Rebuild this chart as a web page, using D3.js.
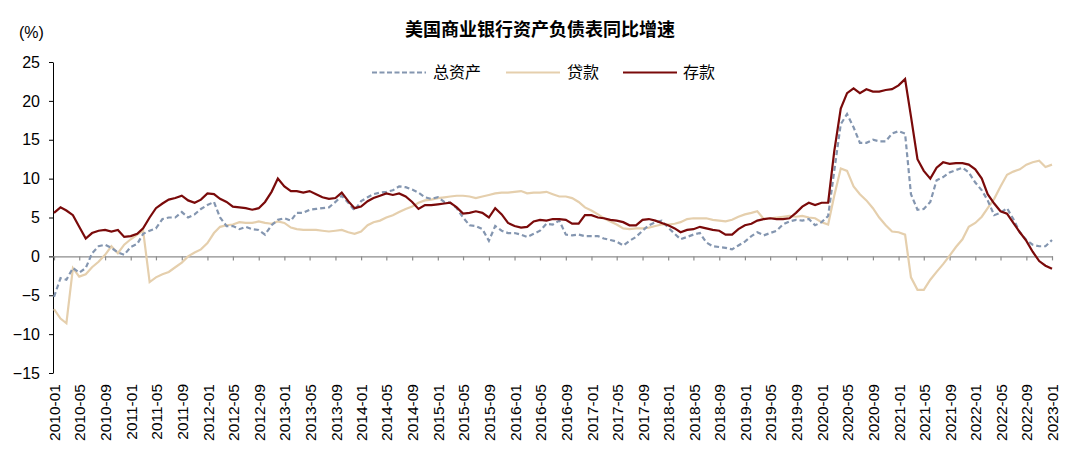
<!DOCTYPE html>
<html><head><meta charset="utf-8">
<script src="https://cdn.jsdelivr.net/npm/d3@7"></script>
<style>
body{margin:0;background:#fff;}
text{font-family:"Liberation Sans",Arial,"Noto Sans CJK SC",sans-serif;}
.cjk{font-family:"Liberation Sans","Noto Sans CJK SC",sans-serif;}
</style></head>
<body><svg id="c" width="1080" height="469"></svg>
<script>
// Monthly observations, 2010-01 .. 2023-01
const startMonth = "2010-01";
const monthCount = 157;
const seriesNames = ["总资产", "贷款", "存款"];
const totalAssets = [
-5.2,-2.8,-3.0,-1.5,-2.1,-1.5,0.4,1.3,1.5,1.1,0.5,0.2,
1.2,1.6,2.9,3.3,3.6,4.8,5.0,5.0,5.7,5.0,5.4,6.1,
6.6,7.0,5.0,3.9,3.9,3.5,3.8,3.5,3.4,2.8,4.0,4.7,
4.9,4.6,5.6,5.6,6.0,6.1,6.2,6.3,7.0,7.8,6.9,5.9,
7.1,7.6,8.0,8.2,8.3,8.5,9.0,8.9,8.6,8.2,7.6,7.4,
7.6,7.0,6.9,6.2,5.0,4.0,3.9,3.5,2.0,3.9,3.3,3.0,
3.0,2.8,2.5,2.9,3.3,4.2,4.1,4.6,2.8,2.7,2.8,2.6,
2.6,2.6,2.3,2.1,1.9,1.4,2.0,2.5,3.3,4.0,4.4,4.6,
3.7,2.9,2.2,2.5,2.8,3.0,1.8,1.3,1.2,1.1,0.9,1.4,
1.9,2.6,3.1,2.7,3.0,3.3,4.1,4.5,4.7,4.6,4.8,4.0,
4.4,5.2,11.0,17.0,18.3,16.6,14.6,14.6,15.0,14.8,14.8,15.8,
16.1,15.8,8.0,6.0,6.1,7.0,9.8,10.2,10.8,11.1,11.4,10.8,
9.5,8.5,7.2,5.3,5.6,6.2,4.8,3.1,2.1,1.5,1.3,1.3,
2.1];
const loans = [
-6.8,-8.0,-8.6,-1.5,-2.6,-2.3,-1.4,-0.7,0.2,1.3,0.4,1.5,
2.2,2.8,3.3,-3.3,-2.7,-2.3,-2.0,-1.4,-0.8,0.0,0.5,0.9,
1.7,3.0,3.8,4.0,4.1,4.4,4.3,4.3,4.5,4.3,4.2,4.5,
4.3,3.7,3.5,3.4,3.4,3.4,3.3,3.2,3.3,3.4,3.1,2.9,
3.2,4.0,4.4,4.6,5.0,5.3,5.7,6.1,6.4,6.9,7.2,7.3,
7.5,7.6,7.7,7.8,7.8,7.7,7.5,7.7,7.9,8.1,8.2,8.2,
8.3,8.4,8.1,8.2,8.2,8.3,8.0,7.7,7.7,7.5,7.0,6.3,
5.9,5.4,4.9,4.5,4.1,3.6,3.5,3.6,3.6,3.7,3.9,4.1,
4.1,4.2,4.4,4.8,4.9,4.9,4.9,4.7,4.6,4.5,4.7,5.1,
5.4,5.6,5.8,4.8,4.9,5.0,5.1,5.2,5.1,5.2,5.0,4.9,
4.4,4.1,7.8,11.3,11.0,9.0,8.0,7.2,6.2,5.0,4.0,3.2,
3.1,2.8,-2.7,-4.3,-4.3,-3.0,-2.0,-1.0,0.1,1.2,2.2,3.8,
4.3,5.1,6.2,7.4,9.0,10.5,10.9,11.2,11.8,12.1,12.3,11.5,
11.8];
const deposits = [
5.6,6.3,5.9,5.3,3.8,2.3,3.0,3.3,3.4,3.2,3.4,2.5,
2.6,2.9,3.6,5.0,6.2,6.8,7.3,7.5,7.8,7.2,6.9,7.3,
8.1,8.0,7.4,7.0,6.4,6.3,6.2,6.0,6.2,7.0,8.3,10.0,
9.0,8.4,8.4,8.2,8.4,8.0,7.6,7.4,7.5,8.2,7.1,6.2,
6.4,7.1,7.5,7.8,8.1,7.9,8.1,7.7,7.0,6.1,6.6,6.6,
6.7,6.8,6.9,6.3,5.5,5.6,5.8,5.6,5.0,6.2,5.4,4.3,
3.9,3.7,3.8,4.5,4.7,4.6,4.8,4.8,4.7,4.2,4.2,5.3,
5.3,5.0,4.9,4.7,4.6,4.4,4.0,4.0,4.7,4.8,4.6,4.3,
4.0,3.6,3.1,3.4,3.5,3.8,3.6,3.4,3.3,2.8,2.8,3.5,
4.0,4.2,4.6,4.8,4.9,4.8,4.8,4.9,5.6,6.4,6.9,6.6,
6.9,6.9,13.5,19.0,21.0,21.6,21.0,21.5,21.2,21.2,21.4,21.5,
22.0,22.8,18.0,12.5,11.0,10.0,11.4,12.1,11.9,12.0,12.0,11.8,
11.2,10.0,8.0,6.8,5.8,5.5,4.3,3.1,2.0,0.6,-0.6,-1.2,
-1.6];
const yTicks = [-15,-10,-5,0,5,10,15,20,25];
const titleText = "美国商业银行资产负债表同比增速";
const unitText = "(%)";

const svg = d3.select("#c");
const t0 = d3.timeParse("%Y-%m")(startMonth);
const dates = d3.range(monthCount).map(i => d3.timeMonth.offset(t0, i));
const x = d3.scaleTime().domain([dates[0], dates[dates.length-1]]).range([54, 1052]);
const y = d3.scaleLinear().domain([-15, 25]).range([373, 62]);

// title & unit
svg.append("text").attr("class","cjk").attr("x",540).attr("y",36).attr("text-anchor","middle")
  .attr("font-size",18).attr("font-weight","bold").attr("fill","#000").text(titleText);
svg.append("text").attr("x",19).attr("y",38).attr("font-size",16).attr("fill","#000").text(unitText);

// y axis
const ya = svg.append("g").attr("transform","translate(53,0)")
  .call(d3.axisLeft(y).tickValues(yTicks).tickSize(4).tickSizeOuter(0).tickPadding(9));
ya.selectAll("path,line").attr("stroke","#000");
ya.selectAll("text").attr("font-size",16).attr("fill","#000").attr("font-family","Liberation Sans, Arial");

// x axis at zero
const monthTicks = d3.timeMonth.every(4).range(dates[0], d3.timeMonth.offset(dates[dates.length-1],1));
const xa = svg.append("g").attr("transform",`translate(0,${y(0)})`)
  .call(d3.axisBottom(x).tickValues(monthTicks).tickSize(4).tickSizeOuter(0).tickFormat(""));
xa.selectAll("path,line").attr("stroke","#8c8c8c").attr("stroke-width",1.2);
xa.select("path").attr("d",`M53,0.5H1053`);

// x labels at bottom
const fmt = d3.timeFormat("%Y-%m");
const xl = svg.append("g").attr("transform","translate(0,384)")
  .call(d3.axisBottom(x).tickValues(monthTicks).tickSize(0).tickFormat(fmt));
xl.select("path").remove();
xl.selectAll("text").attr("font-size",15.5).attr("fill","#000").attr("font-family","Liberation Sans, Arial")
  .attr("text-anchor","end").attr("transform","rotate(-90)").attr("x",0).attr("y",0).attr("dy","0.36em");

// lines
const line = arr => d3.line().x((d,i)=>x(dates[i])).y(d=>y(d))(arr);
svg.append("path").attr("d",line(loans)).attr("fill","none").attr("stroke","#E5CFAD").attr("stroke-width",2.2);
svg.append("path").attr("d",line(totalAssets)).attr("fill","none").attr("stroke","#8496B0").attr("stroke-width",2.2).attr("stroke-dasharray","5,3");
svg.append("path").attr("d",line(deposits)).attr("fill","none").attr("stroke","#7A0A0A").attr("stroke-width",2.2);

// legend
const leg = [
  {name:seriesNames[0], x1:372, x2:426, tx:433, color:"#8496B0", dash:"5,2.5"},
  {name:seriesNames[1], x1:506, x2:560, tx:567, color:"#E5CFAD", dash:null},
  {name:seriesNames[2], x1:623, x2:677, tx:683, color:"#7A0A0A", dash:null}];
leg.forEach(l=>{
  svg.append("line").attr("x1",l.x1).attr("x2",l.x2).attr("y1",72.5).attr("y2",72.5)
    .attr("stroke",l.color).attr("stroke-width",2.2).attr("stroke-dasharray",l.dash);
  svg.append("text").attr("class","cjk").attr("x",l.tx).attr("y",78).attr("font-size",16).attr("fill","#000").text(l.name);
});
</script></body></html>
